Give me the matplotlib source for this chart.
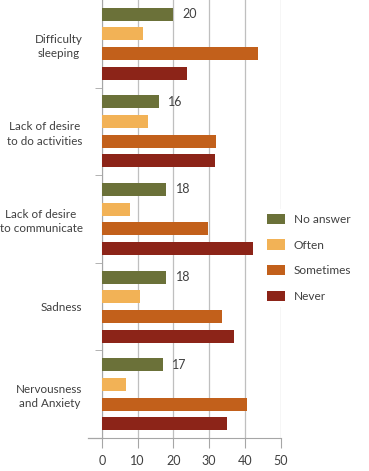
import numpy as np
import matplotlib.pyplot as plt
from matplotlib.patches import Patch

plt.rcParams['font.family'] = ['Lato', 'DejaVu Sans']

categories = ["Difficulty\nsleeping", "Lack of desire\nto do activities",
              "Lack of desire\nto communicate", "Sadness", "Nervousness\nand Anxiety"]
series = ["No answer", "Often", "Sometimes", "Never"]
no_answer = [20, 16, 18, 18, 17]
often = [11.6, 12.8, 7.8, 10.7, 6.7]
sometimes = [43.6, 31.8, 29.7, 33.6, 40.6]
never = [23.8, 31.7, 42.2, 36.9, 35.0]
colors = ["#6B7139", "#F2B256", "#C2601B", "#8C2418"]

values = [no_answer, often, sometimes, never]
txt = "#404040"

fig = plt.figure(figsize=(3.69, 4.71), dpi=100)
ax = fig.add_axes([102 / 369, 33 / 471, 178.5 / 369, 438 / 471])

y = np.arange(len(categories))
pitch = 0.225
for i, (name, vals) in enumerate(zip(series, values)):
    ax.barh(y + (i - 1.5) * pitch, vals, height=0.148, color=colors[i], label=name, zorder=3)

for yi, v in zip(y, no_answer):
    ax.text(v + 2.6, yi - 1.5 * pitch, str(v), va="center", ha="left", fontsize=9, color=txt)

ax.set_xlim(0, 50)
ax.set_ylim(4.5, -0.5)
ax.set_xticks([0, 10, 20, 30, 40, 50])
ax.tick_params(axis="x", length=7, color="#A6A6A6", labelsize=9, labelcolor=txt, pad=5)
ax.grid(axis="x", color="#BFBFBF", linewidth=0.9, zorder=0)

ax.set_yticks(y)
ax.set_yticklabels(categories, fontsize=8.4, color=txt, multialignment="center", linespacing=1.35)
ax.tick_params(axis="y", length=0, pad=14)
ax.set_yticks([0.5, 1.5, 2.5, 3.5], minor=True)
ax.tick_params(axis="y", which="minor", length=5, color="#A6A6A6")

for s in ["top", "right"]:
    ax.spines[s].set_visible(False)
for s in ["left", "bottom"]:
    ax.spines[s].set_color("#A6A6A6")
ax.plot([-0.08, 0], [0, 0], transform=ax.transAxes, clip_on=False, color="#A6A6A6", linewidth=0.9)

handles = [Patch(facecolor=c, label=n) for c, n in zip(colors, series)]
leg = fig.legend(handles=handles, loc="upper left", bbox_to_anchor=(256 / 369, 1 - 203 / 471),
                 frameon=True, facecolor="white", edgecolor="none", framealpha=1,
                 fontsize=8.6, handlelength=1.5, handleheight=0.95, handletextpad=0.75,
                 labelspacing=1.2, borderpad=0.4)
for t in leg.get_texts():
    t.set_color(txt)

fig.savefig("out.png", dpi=100)
